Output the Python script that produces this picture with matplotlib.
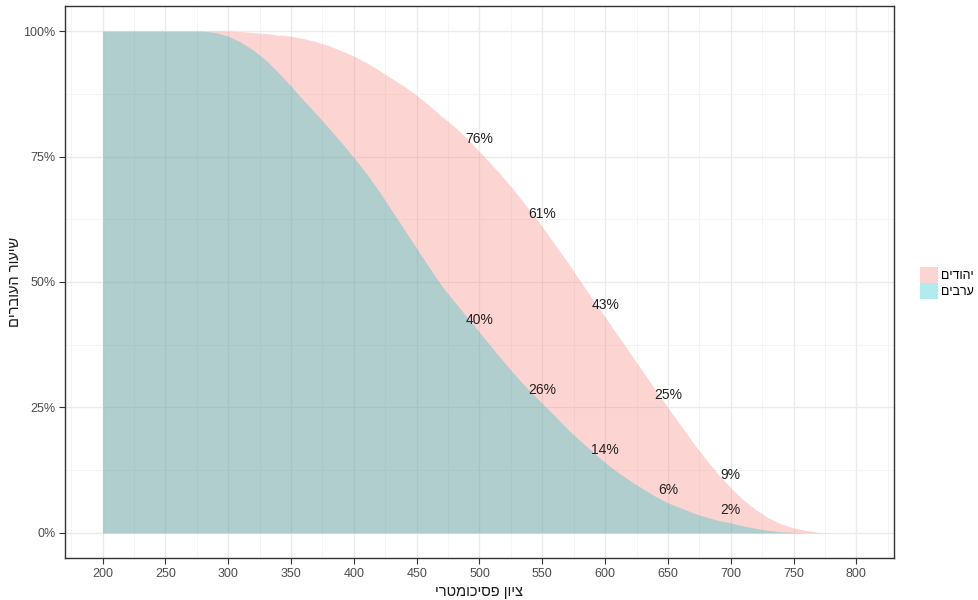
import matplotlib
matplotlib.use('Agg')
import matplotlib.pyplot as plt
from matplotlib.patches import Patch
from matplotlib.ticker import FuncFormatter, MultipleLocator

plt.rcParams['font.family'] = ['Liberation Sans', 'DejaVu Sans']


def heb(s):
    # matplotlib has no bidi support, so give the visual (reversed) order
    return s[::-1]


# Psychometric score thresholds (200..800, step 10)
scores = list(range(200, 810, 10))

# Share of candidates scoring at or above the threshold
jews = [1.0, 1.0, 1.0, 1.0, 1.0, 1.0, 1.0, 1.0, 1.0, 1.0, 1.0,
        0.999, 0.997, 0.995, 0.992, 0.99, 0.985, 0.979, 0.971, 0.961, 0.95,
        0.937, 0.922, 0.906, 0.89, 0.872, 0.852, 0.83, 0.81, 0.786, 0.76,
        0.733, 0.705, 0.675, 0.643, 0.61, 0.575, 0.54, 0.503, 0.466, 0.43,
        0.394, 0.358, 0.322, 0.285, 0.25, 0.215, 0.18, 0.148, 0.117, 0.09,
        0.066, 0.046, 0.03, 0.018, 0.01, 0.005, 0.001, 0.0, 0.0, 0.0]
arabs = [1.0, 1.0, 1.0, 1.0, 1.0, 1.0, 1.0, 1.0, 1.0, 0.997, 0.99,
         0.978, 0.962, 0.942, 0.917, 0.89, 0.862, 0.835, 0.807, 0.778, 0.748,
         0.716, 0.681, 0.643, 0.605, 0.567, 0.529, 0.492, 0.461, 0.43, 0.40,
         0.369, 0.339, 0.31, 0.283, 0.258, 0.233, 0.207, 0.184, 0.162, 0.14,
         0.121, 0.104, 0.088, 0.073, 0.06, 0.05, 0.04, 0.032, 0.025, 0.02,
         0.014, 0.009, 0.005, 0.002, 0.001, 0.0, 0.0, 0.0, 0.0, 0.0]

# Labelled points
label_x = [500, 550, 600, 650, 700]
jews_lab = [0.76, 0.61, 0.43, 0.25, 0.09]
arabs_lab = [0.40, 0.26, 0.14, 0.06, 0.02]

group_names = ['יהודים', 'ערבים']
colors = ['#F8766D', '#00BFC4']
alpha = 0.3

fig = plt.figure(figsize=(9.79, 6), dpi=100)
ax = fig.add_axes([65/979, 42/600, (894-65)/979, (558-6)/600])

ax.fill_between(scores, 0, jews, color=colors[0], alpha=alpha, linewidth=0, zorder=2)
ax.fill_between(scores, 0, arabs, color=colors[1], alpha=alpha, linewidth=0, zorder=3)

# Percent labels, nudged up a little like geom_text(nudge_y=...)
for x, v in zip(label_x, jews_lab):
    ax.text(x, v + 0.025, f'{round(v*100)}%', ha='center', va='center',
            fontsize=10, color='#222222', zorder=5)
for x, v in zip(label_x, arabs_lab):
    ax.text(x, v + 0.025, f'{round(v*100)}%', ha='center', va='center',
            fontsize=10, color='#222222', zorder=5)

# Axes
ax.set_xlim(170, 830)
ax.set_ylim(-0.05, 1.05)
ax.xaxis.set_major_locator(MultipleLocator(50))
ax.xaxis.set_minor_locator(MultipleLocator(25))
ax.yaxis.set_major_locator(MultipleLocator(0.25))
ax.yaxis.set_minor_locator(MultipleLocator(0.125))
ax.yaxis.set_major_formatter(FuncFormatter(lambda v, p: f'{v*100:.0f}%'))

# theme_bw look
ax.set_axisbelow(True)
ax.grid(which='major', color='#EBEBEB', linewidth=1.0, zorder=0)
ax.grid(which='minor', color='#F2F2F2', linewidth=0.6, zorder=0)
for s in ax.spines.values():
    s.set_color('#333333')
    s.set_linewidth(1.0)
ax.tick_params(which='major', length=4, width=0.8, color='#333333',
               labelsize=9, labelcolor='#4D4D4D', pad=3)
ax.tick_params(which='minor', length=0)

ax.set_xlabel(heb('ציון פסיכומטרי'), fontsize=10.5, color='#1A1A1A', labelpad=4)
ax.set_ylabel(heb('שיעור העוברים'), fontsize=10.5, color='#1A1A1A', labelpad=1)

handles = [Patch(facecolor=c, alpha=alpha, edgecolor='none') for c in colors]
fig.legend(handles, [heb(n) for n in group_names], loc='center left',
           bbox_to_anchor=(914/979, 1 - 283/600), frameon=False,
           fontsize=9, handlelength=1.4, handleheight=1.6, handletextpad=0.3,
           labelspacing=0.05, borderpad=0)

fig.savefig('out.png', dpi=100)
